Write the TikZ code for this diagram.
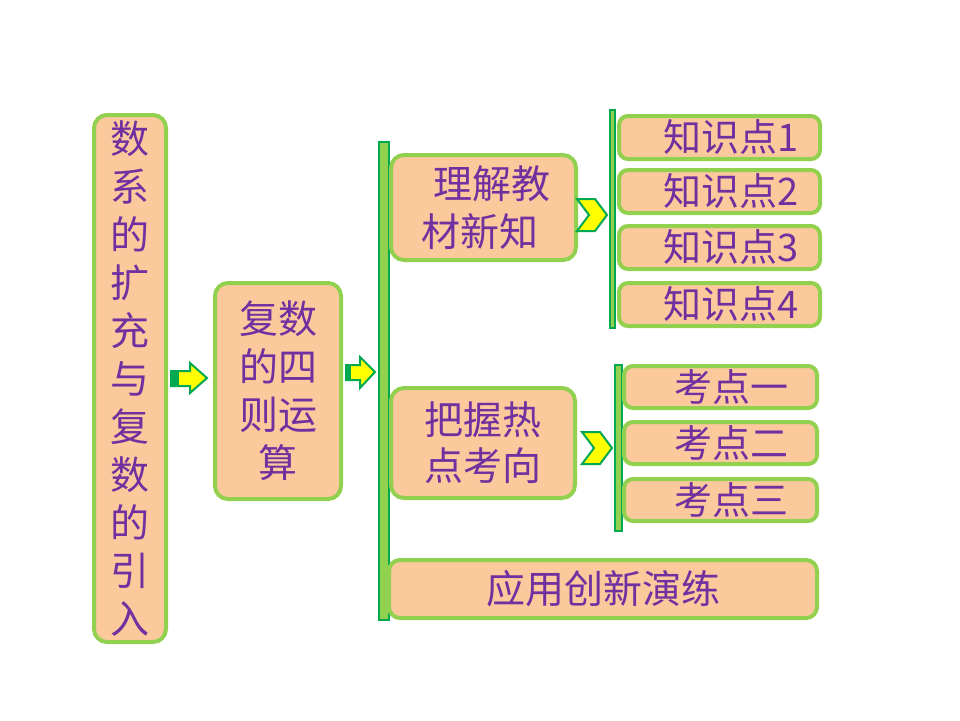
\documentclass[tikz,border=0pt]{standalone}
\usepackage{fontspec}
\newfontfamily\cjk{Noto Sans CJK SC}
\definecolor{boxline}{RGB}{146,208,80}
\definecolor{boxfill}{RGB}{251,201,155}
\definecolor{txtpurple}{RGB}{112,48,160}
\definecolor{darkgreen}{RGB}{0,168,80}
\definecolor{arrowyellow}{RGB}{255,255,0}
\tikzset{
  box/.style={draw=boxline, fill=boxfill, line width=4pt, rounded corners=13pt,
    text=txtpurple, font=\cjk\fontsize{39}{48}\selectfont, inner sep=0pt},
  smallbox/.style={box, rounded corners=9pt, font=\cjk\fontsize{38}{44}\selectfont},
  bar/.style={draw=darkgreen, fill=boxline, line width=2pt, inner sep=0pt},
  chev/.style={draw=darkgreen, fill=arrowyellow, line width=2pt, line join=miter},
  blockarrow/.style={draw=darkgreen, fill=arrowyellow, line width=2pt, line join=miter},
  stripe/.style={fill=darkgreen, draw=none}
}
\begin{document}
\begin{tikzpicture}[x=1pt,y=-1pt]
\useasboundingbox[fill=white] (0,0) rectangle (960,720);

% main boxes
\node[box, minimum width=72pt, minimum height=527pt, align=center] (L) at (130,378.5)
  {数\\系\\的\\扩\\充\\与\\复\\数\\的\\引\\入};
\node[box, minimum width=126pt, minimum height=216pt, align=center] (C) at (278,391)
  {复数\\的四\\则运\\算};

% vertical bars
\node[bar, minimum width=10pt, minimum height=478pt] (b1) at (384,381) {};
\node[bar, minimum width=5pt, minimum height=218pt, line width=1.5pt] (b2) at (612.5,219) {};
\node[bar, minimum width=7pt, minimum height=166pt] (b3) at (618.5,448) {};

% second level
\node[box, minimum width=185pt, minimum height=105pt, text width=133pt, inner xsep=26pt, align=left] (T) at (483.5,207.5)
  {\hspace*{16pt}理解教\\\hspace*{4pt}材新知};
\node[box, minimum width=184pt, minimum height=110pt, align=center, font=\cjk\fontsize{39}{46}\selectfont] (H) at (483,443)
  {把握热\\点考向};
\node[box, minimum width=428pt, minimum height=58pt, rounded corners=11pt] (A) at (603,589) {应用创新演练};

% knowledge points
\node[smallbox, minimum width=201pt, minimum height=43pt, text width=159pt, inner xsep=21pt, align=right] (K1) at (719.5,137.5) {知识点1};
\node[smallbox, minimum width=201pt, minimum height=43pt, text width=159pt, inner xsep=21pt, align=right] (K2) at (719.5,191.5) {知识点2};
\node[smallbox, minimum width=201pt, minimum height=43pt, text width=159pt, inner xsep=21pt, align=right] (K3) at (719.5,247.5) {知识点3};
\node[smallbox, minimum width=201pt, minimum height=43pt, text width=159pt, inner xsep=21pt, align=right] (K4) at (719.5,304.5) {知识点4};

% exam points
\node[smallbox, minimum width=193pt, minimum height=42pt, text width=135pt, inner xsep=29pt, align=right] (P1) at (720.5,387) {考点一};
\node[smallbox, minimum width=193pt, minimum height=42pt, text width=135pt, inner xsep=29pt, align=right] (P2) at (720.5,443) {考点二};
\node[smallbox, minimum width=193pt, minimum height=42pt, text width=135pt, inner xsep=29pt, align=right] (P3) at (720.5,500) {考点三};

% block arrows
\draw[blockarrow] (171,371) -- (190,371) -- (190,363) -- (207,378) -- (190,393) -- (190,386) -- (171,386) -- cycle;
\fill[stripe] (170,370) rectangle (179,387);
\draw[blockarrow] (346,365) -- (360,365) -- (360,357) -- (375,372) -- (360,388) -- (360,380) -- (346,380) -- cycle;
\fill[stripe] (345,364) rectangle (351,381);

% chevrons
\draw[chev] (577,199) -- (595,199) -- (607,215) -- (595,231) -- (577,231) -- (589,215) -- cycle;
\draw[chev] (582,432) -- (600,432) -- (612,448) -- (600,464) -- (582,464) -- (594,448) -- cycle;
\end{tikzpicture}
\end{document}
